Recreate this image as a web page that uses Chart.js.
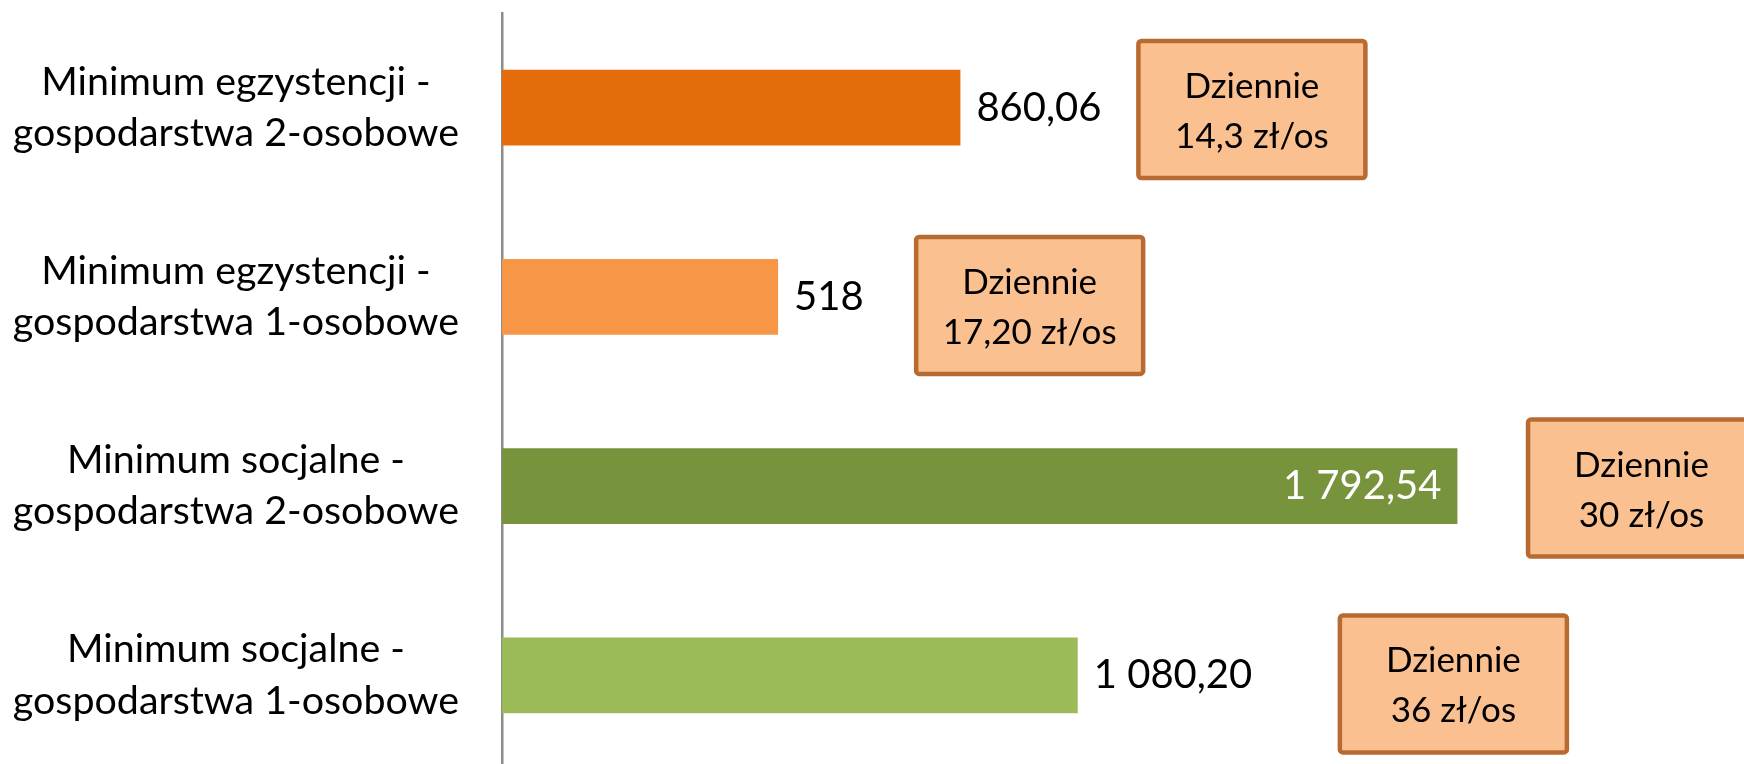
<!DOCTYPE html>
<html lang="pl">
<head>
<meta charset="utf-8">
<title>Minimum egzystencji i minimum socjalne</title>
<script src="https://cdn.jsdelivr.net/npm/chart.js@4.4.1/dist/chart.umd.min.js"></script>
<style>
    html, body {
        margin: 0;
        padding: 0;
        background: #ffffff;
        overflow: hidden;
    }
    #wrap {
        width: 1744px;
        height: 780px;
    }
</style>
</head>
<body>
<div id="wrap">
    <canvas id="minimumChart" width="1744" height="780"></canvas>
</div>
<script>
    // ============================================
    // Data
    // ============================================

    const categories = [
        ['Minimum egzystencji -', 'gospodarstwa 2-osobowe'],
        ['Minimum egzystencji -', 'gospodarstwa 1-osobowe'],
        ['Minimum socjalne -', 'gospodarstwa 2-osobowe'],
        ['Minimum socjalne -', 'gospodarstwa 1-osobowe']
    ];

    const monthlyValues = [860.06, 518, 1792.54, 1080.20];

    const dailyHeading = 'Dziennie';
    const dailyValues = ['14,3 zł/os', '17,20 zł/os', '30 zł/os', '36 zł/os'];

    // ============================================
    // Configuration
    // ============================================

    const FONT = 'Lato, "Open Sans", sans-serif';

    const CONFIG = {
        barColors: ['#E46C0A', '#F79646', '#77933C', '#9BBB59'],
        axisColor: '#8C8C8C',
        boxFill: '#FAC090',
        boxBorder: '#B86B30',
        tickSize: 39.4,
        labelSize: 40,
        boxTextSize: 35,
        labelGap: 16
    };

    // callout boxes: left edge in value units, vertical shift in category units
    const boxAnchors = [
        { value: 1194, shift: 0.01 },
        { value: 777, shift: 0.045 },
        { value: 1925, shift: 0.01 },
        { value: 1572, shift: 0.045 }
    ];
    const BOX_W = 227;
    const BOX_H = 137;

    // ============================================
    // Helpers
    // ============================================

    function formatPl(v) {
        const s = Number.isInteger(v) ? String(v) : v.toFixed(2);
        const parts = s.split('.');
        const grouped = parts[0].replace(/\B(?=(\d{3})+(?!\d))/g, ' ');
        return parts[1] ? grouped + ',' + parts[1] : grouped;
    }

    // ============================================
    // Plugins
    // ============================================

    const valueLabels = {
        id: 'valueLabels',
        afterDatasetsDraw(chart) {
            const ctx = chart.ctx;
            const area = chart.chartArea;
            const meta = chart.getDatasetMeta(0);
            ctx.save();
            ctx.font = CONFIG.labelSize + 'px ' + FONT;
            ctx.textBaseline = 'middle';
            meta.data.forEach((bar, i) => {
                const text = formatPl(monthlyValues[i]);
                const w = ctx.measureText(text).width;
                if (bar.x + CONFIG.labelGap + w > area.right) {
                    // does not fit outside - put it inside the bar end
                    ctx.fillStyle = '#ffffff';
                    ctx.textAlign = 'right';
                    ctx.fillText(text, bar.x - CONFIG.labelGap, bar.y);
                } else {
                    ctx.fillStyle = '#000000';
                    ctx.textAlign = 'left';
                    ctx.fillText(text, bar.x + CONFIG.labelGap, bar.y);
                }
            });
            ctx.restore();
        }
    };

    const dailyBoxes = {
        id: 'dailyBoxes',
        afterDraw(chart) {
            const ctx = chart.ctx;
            const xScale = chart.scales.x;
            const yScale = chart.scales.y;
            ctx.save();
            boxAnchors.forEach((a, i) => {
                const left = xScale.getPixelForValue(a.value);
                const cy = yScale.getPixelForValue(i + a.shift);
                const top = cy - BOX_H / 2;

                ctx.beginPath();
                ctx.roundRect(left, top, BOX_W, BOX_H, 3);
                ctx.fillStyle = CONFIG.boxFill;
                ctx.fill();
                ctx.lineWidth = 4.5;
                ctx.strokeStyle = CONFIG.boxBorder;
                ctx.stroke();

                ctx.fillStyle = '#000000';
                ctx.textAlign = 'center';
                ctx.textBaseline = 'alphabetic';
                ctx.font = CONFIG.boxTextSize + 'px ' + FONT;
                ctx.fillText(dailyHeading, left + BOX_W / 2, top + 57);
                ctx.fillText(dailyValues[i], left + BOX_W / 2, top + 107);
            });
            ctx.restore();
        }
    };

    // ============================================
    // Chart
    // ============================================

    const ctx = document.getElementById('minimumChart').getContext('2d');

    new Chart(ctx, {
        type: 'bar',
        data: {
            labels: categories,
            datasets: [{
                data: monthlyValues,
                backgroundColor: CONFIG.barColors,
                borderWidth: 0,
                categoryPercentage: 1,
                barPercentage: 0.4
            }]
        },
        options: {
            indexAxis: 'y',
            responsive: false,
            animation: false,
            layout: {
                padding: { left: 0, right: 176, top: 13, bottom: 10 }
            },
            plugins: {
                legend: { display: false },
                tooltip: { enabled: false }
            },
            scales: {
                x: {
                    display: false,
                    min: 0,
                    max: 2000
                },
                y: {
                    afterFit(scale) {
                        // fixed axis width, and no extra room above/below for the labels
                        scale.width = 502;
                        scale.paddingTop = 0;
                        scale.paddingBottom = 0;
                    },
                    grid: {
                        display: false,
                        drawTicks: false
                    },
                    border: {
                        display: true,
                        color: CONFIG.axisColor,
                        width: 2.5
                    },
                    ticks: {
                        color: '#000000',
                        crossAlign: 'center',
                        padding: 43,
                        font: {
                            family: FONT,
                            size: CONFIG.tickSize,
                            lineHeight: 1.3
                        }
                    }
                }
            }
        },
        plugins: [valueLabels, dailyBoxes]
    });
</script>
</body>
</html>
